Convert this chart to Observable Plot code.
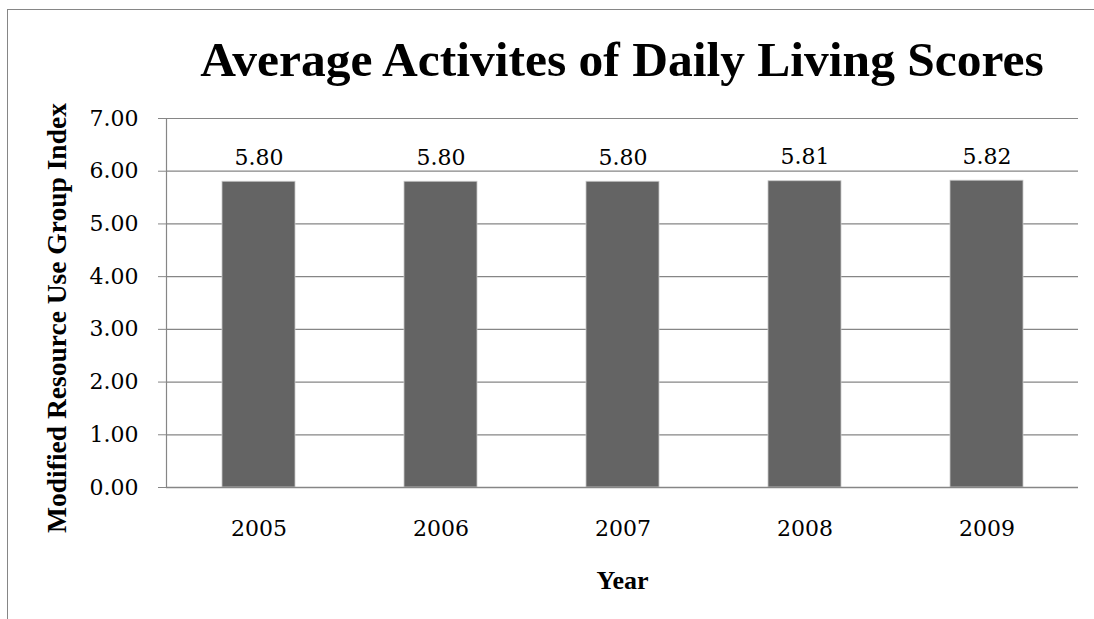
<!DOCTYPE html>
<html><head><meta charset="utf-8">
<script src="https://cdn.jsdelivr.net/npm/d3@7"></script>
<script src="https://cdn.jsdelivr.net/npm/@observablehq/plot@0.6"></script>
<style>
body{margin:0;background:#fff;}
#wrap{position:relative;width:1094px;height:619px;overflow:hidden;background:#fff;}
#border{position:absolute;left:7px;top:9px;width:1200px;height:700px;border-left:1px solid #868686;border-top:1px solid #868686;}
#title{position:absolute;left:166px;width:912px;top:34.5px;line-height:49.5px;text-align:center;font-family:"Liberation Serif",serif;font-weight:bold;font-size:49.5px;color:#000;white-space:nowrap;}
#chart{position:absolute;left:0;top:0;}
</style></head>
<body>
<div id="wrap">
<div id="border"></div>
<div id="chart"></div>
<div id="title">Average Activites of Daily Living Scores</div>
</div>
<script>
const years = ["2005", "2006", "2007", "2008", "2009"];
const scores = [5.80, 5.80, 5.80, 5.81, 5.82];
const yTicks = [0, 1, 2, 3, 4, 5, 6, 7];
const yLabel = "Modified Resource Use Group Index";
const xLabel = "Year";

const data = years.map((year, i) => ({year, value: scores[i]}));
const gray = "#868686";
const numFont = "'DejaVu Serif', serif";
const labelFont = "'Liberation Serif', serif";

const chart = Plot.plot({
  width: 1094,
  height: 619,
  marginTop: 118,
  marginBottom: 132,
  marginLeft: 166,
  marginRight: 16,
  style: {fontFamily: numFont, fontSize: "22px", color: "#000", background: "transparent", overflow: "visible"},
  x: {domain: years, paddingInner: 0.6, paddingOuter: 0.3, label: null},
  y: {domain: [0, 7], label: null},
  marks: [
    Plot.gridY(yTicks, {stroke: gray, strokeOpacity: 1, strokeWidth: 1.2}),
    Plot.barY(data, {x: "year", y: "value", fill: "#646464", stroke: "#c8c8c8", strokeWidth: 0.8}),
    Plot.ruleY([0], {stroke: gray, strokeWidth: 1.6}),
    Plot.frame({anchor: "left", stroke: gray, strokeWidth: 1.2}),
    Plot.axisY(yTicks, {tickFormat: d3.format(".2f"), tickSize: 8, tickPadding: 20, stroke: gray, fill: "#000", fontSize: 22, fontFamily: numFont, label: null}),
    Plot.axisX({tickSize: 0, tickPadding: 33, fill: "#000", fontSize: 22, fontFamily: numFont, label: null}),
    Plot.text(data, {x: "year", y: "value", text: d => d.value.toFixed(2), dy: -17, lineAnchor: "bottom", fontSize: 22, fontFamily: numFont, fill: "#000"}),
    Plot.text([xLabel], {frameAnchor: "bottom", dy: 101, lineAnchor: "bottom", textAnchor: "middle", fontWeight: "bold", fontSize: 26, fontFamily: labelFont, fill: "#000"}),
    Plot.text([yLabel], {frameAnchor: "left", rotate: -90, textAnchor: "middle", dx: -109, dy: 15, fontWeight: "bold", fontSize: 27.5, fontFamily: labelFont, fill: "#000"})
  ]
});
document.getElementById("chart").appendChild(chart);
</script>
</body></html>
